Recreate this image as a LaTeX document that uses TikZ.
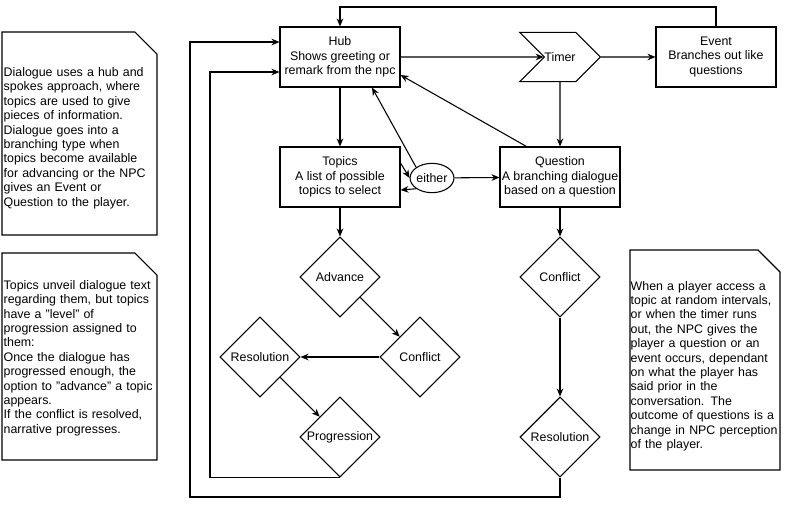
\documentclass[tikz,border=0pt]{standalone}
\usepackage{fontspec}
\setmainfont{Liberation Sans}
\usetikzlibrary{shapes.geometric,shapes.symbols,arrows.meta,positioning}

\begin{document}
\begin{tikzpicture}[x=0.75pt,y=-0.75pt,
    every node/.style={font=\fontsize{9.3}{10.8}\selectfont},
    box/.style={rectangle,draw,thick,fill=white,minimum width=90pt,minimum height=45pt,align=center,inner sep=1pt},
    choice/.style={diamond,draw,thick,fill=white,minimum width=60pt,minimum height=60pt,inner sep=0pt},
    note/.style={align=left,text width=113pt,inner sep=0pt,execute at begin node={\raggedright\hyphenpenalty=10000\exhyphenpenalty=10000}},
    flow/.style={thick,-{Stealth[length=6pt,width=5pt]}}
    ]
    \useasboundingbox (0,0) rectangle (787,512);
    % main column
    \node[box] (hub) at (340,57) {Hub\\Shows greeting or\\remark from the npc};
    \node[signal,signal to=east,signal from=west,draw,thick,minimum width=45pt,minimum height=37pt,inner sep=0pt] (timer) at (560,57) {Timer};
    \node[box] (event) at (716,57) {Event\\Branches out like\\questions};
    \node[box] (topics) at (340,177) {Topics\\A list of possible\\topics to select};
    \node[ellipse,draw,thick,minimum width=32pt,minimum height=22pt,inner sep=0pt] (either) at (432,178) {either};
    \node[box] (question) at (560,177) {Question\\A branching dialogue\\based on a question};
    \node[choice] (advance) at (340,277) {Advance};
    \node[choice] (conflictA) at (420,357) {Conflict};
    \node[choice] (resolutionA) at (260,357) {Resolution};
    \node[choice] (progression) at (340,437) {Progression};
    \node[choice] (conflictB) at (560,277) {Conflict};
    \node[choice] (resolutionB) at (560,437) {Resolution};
    % arrows
    \draw[flow] (hub) -- (timer);
    \draw[flow] (timer) -- (event);
    \draw[flow] (timer) -- (question);
    \draw[flow] (hub) -- (topics);
    \draw[flow] (topics.east |- 0,163) -- (either.west);
    \draw[flow] (either.south west) -- (topics.east |- 0,190);
    \draw[flow] (either) -- (question);
    \draw[flow] (either.north west) -- (hub.south -| 372,0);
    \draw[flow] (question.north west) ++(27,0) -- (hub.east |- 0,75);
    \draw[flow] (topics) -- (advance);
    \draw[flow] (question) -- (conflictB);
    \draw[flow] (conflictB) -- (resolutionB);
    \draw[flow] (advance.south east) -- (conflictA.north west);
    \draw[flow] (conflictA) -- (resolutionA);
    \draw[flow] (resolutionA.south east) -- (progression.north west);
    % loops back to the hub
    \draw[flow] (event.north) |- (340,7) -- (hub.north);
    \draw[flow] (progression.south) -| (210,72) -- (hub.west |- 0,72);
    \draw[flow] (resolutionB.south) |- (190,497) |- (hub.west |- 0,42);
    % notes
    \foreach \nx/\ny/\nw/\nh in {2/32/155/203,2/253/155/207,630/250/150/220} {
        \draw[thick] (\nx,\ny) -- ++(\nw-22,0) -- ++(22,22) -- ++(0,\nh-22) -- ++(-\nw,0) -- cycle;
    }
    \node[note] (noteone) at (79,138) {Dialogue uses a hub and spokes approach, where topics are used to give pieces of information. Dialogue goes into a branching type when topics become available for advancing or the NPC gives an Event or Question to the player.};
    \node[note] (notetwo) at (79,358) {Topics unveil dialogue text regarding them, but topics have a "level" of progression assigned to them:\\Once the dialogue has progressed enough, the option to "advance" a topic appears.\\If the conflict is resolved, narrative progresses.};
    \node[note] (notethree) at (706,366) {When a player access a topic at random intervals, or when the timer runs out, the NPC gives the player a question or an event occurs, dependant on what the player has said prior in the conversation. The outcome of questions is a change in NPC perception of the player.};
\end{tikzpicture}
\end{document}
